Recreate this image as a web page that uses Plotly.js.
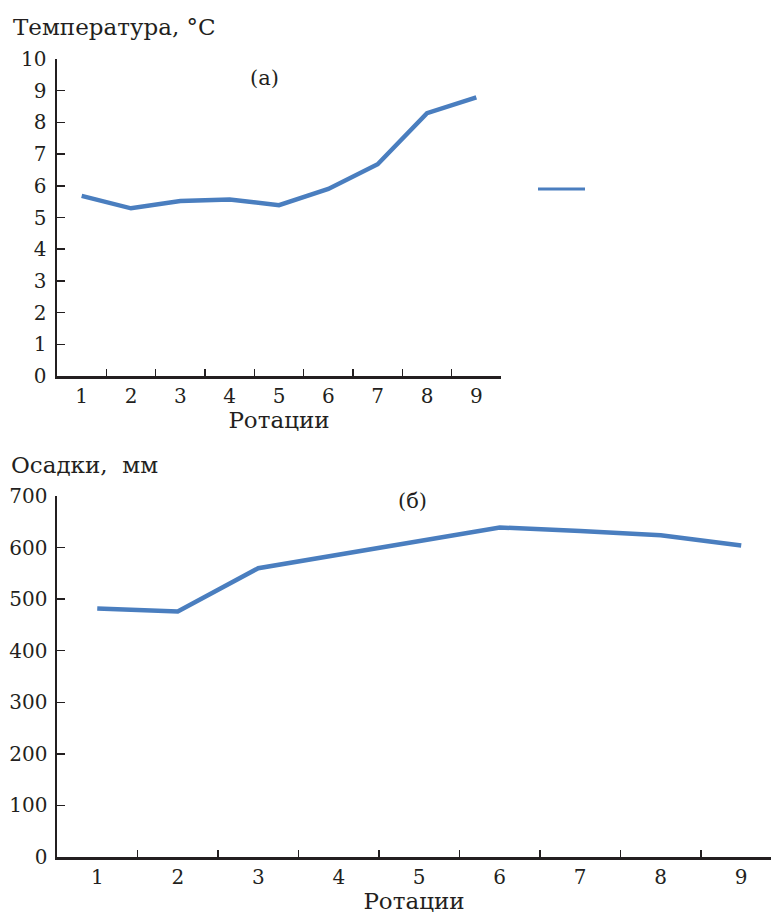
<!DOCTYPE html>
<html>
<head>
<meta charset="utf-8">
<script src="https://cdn.plot.ly/plotly-3.0.1.min.js"></script>
<style>html,body{margin:0;padding:0;background:#fff}#chart{width:771px;height:916px}</style>
</head>
<body>
<div id="chart"></div>
<script>
const rotations = ['1','2','3','4','5','6','7','8','9'];
const temperature = [5.68, 5.29, 5.52, 5.57, 5.39, 5.90, 6.68, 8.29, 8.79];
const precipitation = [482, 476, 560, 586, 612, 639, 632, 624, 604];
const tempTicks = [0,1,2,3,4,5,6,7,8,9,10];
const precTicks = [0,100,200,300,400,500,600,700];

const W = 771, H = 916;
const lineColor = '#4a7ebf';
const axisColor = '#231f20';
const font = {family: 'DejaVu Serif', size: 20, color: '#231f20'};
const titleFont = Object.assign({}, font, {size: 23});
const panelFont = Object.assign({}, font, {size: 21});

const traces = [
  {x: rotations, y: temperature, type: 'scatter', mode: 'lines', xaxis: 'x', yaxis: 'y',
   line: {color: lineColor, width: 4.5}, showlegend: false, hoverinfo: 'x+y'},
  {x: rotations, y: precipitation, type: 'scatter', mode: 'lines', xaxis: 'x2', yaxis: 'y2',
   line: {color: lineColor, width: 4.5}, showlegend: false, hoverinfo: 'x+y'}
];

const axisCommon = {
  showline: true, linecolor: axisColor, linewidth: 2.5, mirror: false,
  showgrid: false, zeroline: false, ticks: 'inside', tickcolor: axisColor, tickwidth: 1.5,
  tickfont: font, fixedrange: true
};

const layout = {
  width: W, height: H,
  margin: {l: 0, r: 0, t: 0, b: 0},
  paper_bgcolor: '#fff', plot_bgcolor: '#fff',
  font: font,
  showlegend: false,
  xaxis: Object.assign({}, axisCommon, {
    domain: [57/W, 501/W], anchor: 'y', type: 'category',
    categoryorder: 'array', categoryarray: rotations,
    range: [-0.5, 8.5], tickson: 'boundaries', ticklen: 7,
    title: {text: 'Ротации', font: titleFont, standoff: 6}
  }),
  yaxis: Object.assign({}, axisCommon, {
    domain: [(H-376)/H, (H-59)/H], anchor: 'x',
    range: [0, 10], tickvals: tempTicks, ticklen: 8, ticklabelstandoff: 4
  }),
  xaxis2: Object.assign({}, axisCommon, {
    domain: [57/W, 1], anchor: 'y2', type: 'category',
    categoryorder: 'array', categoryarray: rotations,
    range: [-0.5, 8.37], tickson: 'boundaries', ticklen: 7,
    title: {text: 'Ротации', font: titleFont, standoff: 6}
  }),
  yaxis2: Object.assign({}, axisCommon, {
    domain: [(H-857)/H, (H-496)/H], anchor: 'x2',
    range: [0, 700], tickvals: precTicks, ticklen: 8, ticklabelstandoff: 3
  }),
  annotations: [
    {text: 'Температура, °C', xref: 'paper', yref: 'paper', x: 11/W, y: (H-27)/H,
     xanchor: 'left', yanchor: 'middle', showarrow: false, font: titleFont},
    {text: 'Осадки,  мм', xref: 'paper', yref: 'paper', x: 9/W, y: (H-465)/H,
     xanchor: 'left', yanchor: 'middle', showarrow: false, font: titleFont},
    {text: '(а)', xref: 'paper', yref: 'paper', x: 264/W, y: (H-78)/H,
     xanchor: 'center', yanchor: 'middle', showarrow: false, font: panelFont},
    {text: '(б)', xref: 'paper', yref: 'paper', x: 412/W, y: (H-501)/H,
     xanchor: 'center', yanchor: 'middle', showarrow: false, font: panelFont}
  ],
  shapes: [
    {type: 'line', xref: 'paper', yref: 'paper', x0: 538/W, x1: 585/W, y0: (H-189)/H, y1: (H-189)/H,
     line: {color: lineColor, width: 3}}
  ]
};

Plotly.newPlot('chart', traces, layout, {displayModeBar: false, staticPlot: true});
</script>
</body>
</html>
